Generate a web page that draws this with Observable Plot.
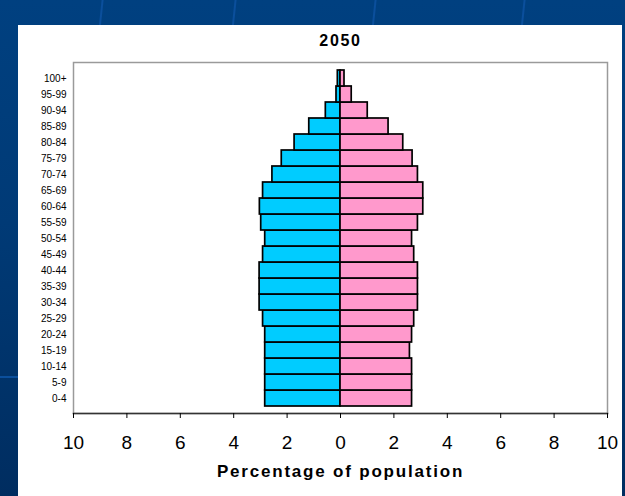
<!DOCTYPE html>
<html>
<head>
<meta charset="utf-8">
<script src="https://cdn.jsdelivr.net/npm/d3@7"></script>
<script src="https://cdn.jsdelivr.net/npm/@observablehq/plot@0.6"></script>
<style>
  html, body { margin: 0; padding: 0; }
  #slide {
    position: relative; width: 625px; height: 496px; overflow: hidden;
    background: linear-gradient(180deg, #004080 0%, #003a76 45%, #002d60 100%);
  }
  .streak {
    position: absolute; top: -4px; width: 2px; height: 540px;
    background: #0b4f9c; transform: rotate(6deg); transform-origin: top left;
  }
  .hline { position: absolute; left: 0; width: 18px; height: 2px; background: #0b4f9c; }
  #panel { position: absolute; left: 18px; top: 25px; width: 604px; height: 471px; background: #fff; }
  #panel svg { display: block; }
</style>
</head>
<body>
<div id="slide">
  <div class="streak" style="left:102px"></div>
  <div class="streak" style="left:235px"></div>
  <div class="streak" style="left:375px"></div>
  <div class="streak" style="left:524px"></div>
  <div class="hline" style="top:376px"></div>
  <div id="panel"></div>
</div>
<script>
// Age groups, youngest first
const ageGroups = ["0-4", "5-9", "10-14", "15-19", "20-24", "25-29", "30-34", "35-39",
  "40-44", "45-49", "50-54", "55-59", "60-64", "65-69", "70-74", "75-79",
  "80-84", "85-89", "90-94", "95-99", "100+"];

// Share of total population (%) in each age group, 2050
const malePct = [2.82, 2.82, 2.82, 2.82, 2.82, 2.9, 3.03, 3.03,
  3.03, 2.9, 2.82, 2.97, 3.02, 2.9, 2.55, 2.2,
  1.72, 1.17, 0.55, 0.15, 0.1];
const femalePct = [2.68, 2.68, 2.68, 2.6, 2.68, 2.76, 2.9, 2.9,
  2.9, 2.76, 2.68, 2.9, 3.1, 3.1, 2.9, 2.7,
  2.35, 1.8, 1.02, 0.42, 0.15];

const xTicks = [-10, -8, -6, -4, -2, 0, 2, 4, 6, 8, 10];
const sexColors = { Male: "#00ccff", Female: "#ff99cc" };

// Males extend to the left (negative), females to the right
const rows = ageGroups.flatMap((age, i) => [
  { age, sex: "Male", pct: -malePct[i] },
  { age, sex: "Female", pct: femalePct[i] }
]);

const font = "Arial, 'Liberation Sans', sans-serif";

const chart = Plot.plot({
  width: 604,
  height: 471,
  marginLeft: 55,
  marginRight: 15,
  marginTop: 37,
  marginBottom: 83,
  style: { fontFamily: font, background: "white", overflow: "visible" },
  x: { domain: [-10, 10] },
  y: { domain: ageGroups.slice().reverse(), padding: 0 },
  marks: [
    Plot.frame({ stroke: "#9a9a9a", strokeWidth: 1.5 }),
    Plot.barX(rows, {
      x: "pct", y: "age",
      fill: d => sexColors[d.sex],
      stroke: "black", strokeWidth: 1.7
    }),
    Plot.frame({ anchor: "bottom", stroke: "#333", strokeWidth: 1.5 }),
    Plot.axisX({
      ticks: xTicks, tickFormat: d => Math.abs(d),
      tickSize: 5, tickPadding: 17, fontSize: 19,
      label: null
    }),
    Plot.axisY({ tickSize: 0, tickPadding: 7, fontSize: 10, label: null }),
    Plot.text(["2050"], {
      frameAnchor: "top", dy: -21.7, lineAnchor: "middle",
      fontSize: 16, fontWeight: "bold", fill: "black"
    }),
    Plot.text(["Percentage of population"], {
      frameAnchor: "bottom", dy: 58, lineAnchor: "middle",
      fontSize: 17, fontWeight: "bold", fill: "black"
    })
  ]
});

// Slightly wider tracking on the bold titles
d3.select(chart).selectAll("text").filter(function () {
  return this.textContent === "2050" || this.textContent === "Percentage of population";
}).style("letter-spacing", function () {
  return this.textContent === "2050" ? "1.7px" : "1.8px";
});

document.getElementById("panel").appendChild(chart);
</script>
</body>
</html>
